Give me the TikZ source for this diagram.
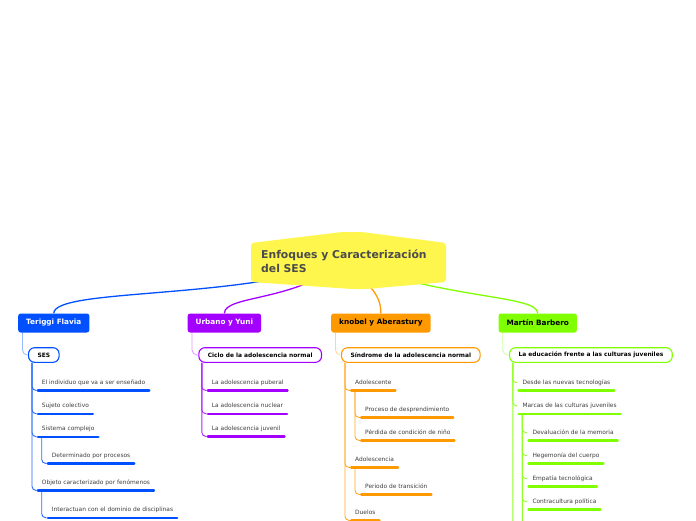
\documentclass[tikz,border=0pt]{standalone}
\usepackage{fontspec}
\setmainfont{DejaVu Sans}
\usetikzlibrary{backgrounds}
\definecolor{tblue}{RGB}{0,80,255}
\definecolor{tpurple}{RGB}{163,0,255}
\definecolor{torange}{RGB}{255,153,0}
\definecolor{tgreen}{RGB}{128,255,0}
\definecolor{tyellow}{RGB}{255,246,77}
\definecolor{roottext}{RGB}{75,75,75}
\definecolor{leafgray}{RGB}{62,62,62}
\newcommand{\rootfont}{\fontsize{10.8}{13.7}\selectfont\bfseries}
\newcommand{\branchfont}{\fontsize{7.3}{8}\selectfont\bfseries}
\newcommand{\subfont}{\fontsize{5.9}{7}\selectfont\bfseries}
\newcommand{\leaffont}{\fontsize{5.9}{7}\selectfont}
\tikzset{
  branch/.style={fill=#1, rounded corners=2.5pt, anchor=west, inner xsep=8pt,
    inner ysep=0pt, minimum height=19pt, font=\branchfont},
  topic/.style={draw=#1, fill=white, line width=1.1pt, rounded corners=6pt,
    anchor=west, inner xsep=9pt, inner ysep=0pt, minimum height=14.6pt, font=\subfont},
  leaf/.style={anchor=west, inner xsep=5pt, inner ysep=4.7pt, text height=4.3pt,
    text depth=1.3pt, font=\leaffont, text=leafgray,
    append after command={(\tikzlastnode.south west) edge[draw=#1, line width=2.3pt,
      line cap=round, shorten <=1.15pt, shorten >=1.15pt] (\tikzlastnode.south east)}},
  link/.style={draw=#1, line width=1.3pt},
  stem/.style={draw=#1!40, line width=0.8pt, rounded corners=5pt},
  twig/.style={draw=#1!85, line width=0.9pt, rounded corners=4pt}
}

\begin{document}
\begin{tikzpicture}[x=1pt,y=1pt]
\useasboundingbox (0,0) rectangle (696,-520);
% central topic
\fill[tyellow, rounded corners=3pt] (251,-243) -- (342,-232) -- (362,-232) -- (446,-243)
  -- (446,-282) -- (366,-289) -- (352,-289) -- (251,-282) -- cycle;
\node[anchor=west, inner sep=0pt, align=left, font=\rootfont, text=roottext] (root)
  at (261,-261.5) {Enfoques y Caracterización\\del SES};
% authors
\node[branch=tblue, text=white] (teriggi) at (18,-323) {Teriggi Flavia};
\node[branch=tpurple, text=white] (urbano) at (187.5,-323) {Urbano y Yuni};
\node[branch=torange, text=black] (knobel) at (331,-323) {knobel y Aberastury};
\node[branch=tgreen, text=black] (martin) at (498.3,-323) {Martín Barbero};
% topics
\node[topic=tblue] (ses) at (28,-355) {SES};
\node[topic=tpurple] (ciclo) at (198.3,-355) {Ciclo de la adolescencia normal};
\node[topic=torange] (sindrome) at (341,-355) {Síndrome de la adolescencia normal};
\node[topic=tgreen] (educ) at (509,-355) {La educación frente a las culturas juveniles};
% Teriggi
\node[leaf=tblue] (b1) at (36.7,-382.7) {El individuo que va a ser enseñado};
\node[leaf=tblue] (b2) at (36.7,-406) {Sujeto colectivo};
\node[leaf=tblue] (b3) at (36.7,-429) {Sistema complejo};
\node[leaf=tblue] (b31) at (46.7,-455.7) {Determinado por procesos};
\node[leaf=tblue] (b4) at (36.7,-482.7) {Objeto caracterizado por fenómenos};
\node[leaf=tblue] (b41) at (46.7,-510) {Interactuan con el dominio de disciplinas};
% Urbano
\node[leaf=tpurple] (p1) at (206.7,-382.7) {La adolescencia puberal};
\node[leaf=tpurple] (p2) at (206.7,-406) {La adolescencia nuclear};
\node[leaf=tpurple] (p3) at (206.7,-428.7) {La adolescencia juvenil};
% knobel
\node[leaf=torange] (o1) at (350,-382.7) {Adolescente};
\node[leaf=torange] (o11) at (360,-409.7) {Proceso de desprendimiento};
\node[leaf=torange] (o12) at (360,-432.7) {Pérdida de condición de niño};
\node[leaf=torange] (o2) at (350,-459.7) {Adolescencia};
\node[leaf=torange] (o21) at (360,-486.7) {Periodo de transición};
\node[leaf=torange] (o3) at (350,-512.7) {Duelos};
% Martin
\node[leaf=tgreen] (g1) at (517.3,-382.7) {Desde las nuevas tecnologías};
\node[leaf=tgreen] (g2) at (517.3,-406) {Marcas de las culturas juveniles};
\node[leaf=tgreen] (g21) at (527.3,-432.7) {Devaluación de la memoria};
\node[leaf=tgreen] (g22) at (527.3,-455.7) {Hegemonía del cuerpo};
\node[leaf=tgreen] (g23) at (527.3,-478.7) {Empatía tecnológica};
\node[leaf=tgreen] (g24) at (527.3,-501.7) {Contracultura política};
\coordinate (gmore) at (517.3,-560);
\coordinate (g2more) at (527.3,-560);

\begin{scope}[on background layer]
\draw[link=tblue] (root.center) .. controls (240,-300) and (54,-288) .. (teriggi.north);
\draw[link=tpurple] (root.center) .. controls (295,-302) and (224.5,-295) .. (urbano.north);
\draw[link=torange] (root.center) .. controls (370,-285) and (381,-295) .. (knobel.north);
\draw[link=tgreen] (root.center) .. controls (450,-300) and (537.5,-295) .. (martin.north);
\draw[stem=tblue] ([xshift=4.5pt]teriggi.south west) |- (ses.west);
\draw[stem=tpurple] ([xshift=4.5pt]urbano.south west) |- (ciclo.west);
\draw[stem=torange] ([xshift=4.5pt]knobel.south west) |- (sindrome.west);
\draw[stem=tgreen] ([xshift=4.5pt]martin.south west) |- (educ.west);
\foreach \leafname in {b1,b2,b3,b4}
  \draw[twig=tblue] ([xshift=4pt]ses.south west) |- (\leafname.south west);
\draw[twig=tblue] ([xshift=5pt]b3.south west) |- (b31.south west);
\draw[twig=tblue] ([xshift=5pt]b4.south west) |- (b41.south west);
\foreach \leafname in {p1,p2,p3}
  \draw[twig=tpurple] ([xshift=3.5pt]ciclo.south west) |- (\leafname.south west);
\foreach \leafname in {o1,o2,o3}
  \draw[twig=torange] ([xshift=4pt]sindrome.south west) |- (\leafname.south west);
\foreach \leafname in {o11,o12}
  \draw[twig=torange] ([xshift=5pt]o1.south west) |- (\leafname.south west);
\draw[twig=torange] ([xshift=5pt]o2.south west) |- (o21.south west);
\foreach \leafname in {g1,g2,gmore}
  \draw[twig=tgreen] ([xshift=3.8pt]educ.south west) |- (\leafname);
\foreach \leafname in {g21,g22,g23,g24,g2more}
  \draw[twig=tgreen] ([xshift=5pt]g2.south west) |- (\leafname);
\end{scope}
\end{tikzpicture}
\end{document}
